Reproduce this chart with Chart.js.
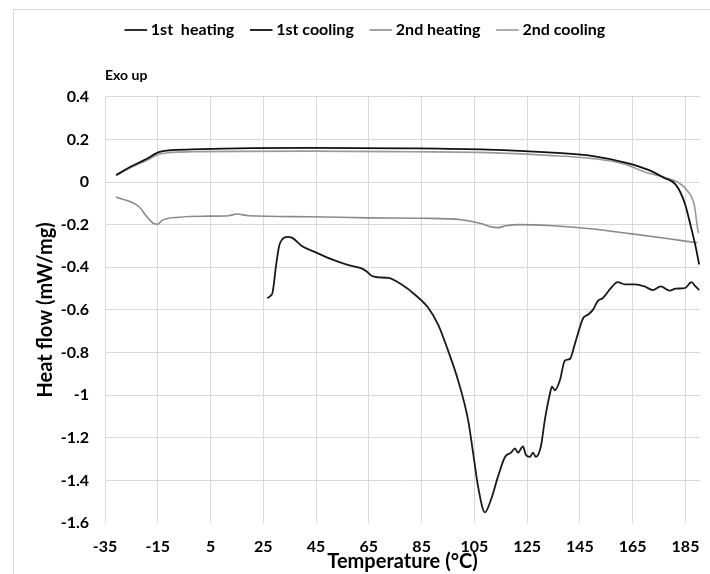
<!DOCTYPE html>
<html>
<head>
<meta charset="utf-8">
<script src="https://cdn.jsdelivr.net/npm/chart.js@4.4.1/dist/chart.umd.min.js"></script>
<style>
    html, body { margin: 0; padding: 0; background: #fff; }
    #wrap { position: relative; width: 710px; height: 574px; }
    #frame { position: absolute; left: 13px; top: 9px; right: 0; bottom: 0; border-left: 1px solid #d9d9d9; border-top: 1px solid #d9d9d9; }
    canvas { position: absolute; left: 0; top: 0; }
</style>
</head>
<body>
<div id="wrap">
    <div id="frame"></div>
    <canvas id="myChart-dsc" width="710" height="574"></canvas>
</div>
<script>
// temperatures (°C) and heat flow (mW/mg)
const heat1Temp = [26.5, 27.6, 28.5, 29.8, 31, 32.3, 34.2, 36, 39.6, 44.9, 51, 57.3, 62.2, 64.2, 66, 68.6, 72.4, 77.3, 82.6, 87.5, 91.3, 95, 98.8, 102.6, 104.5, 106.4, 109, 111.3, 114, 116.6, 118.9, 120.4, 121.5, 123.4, 124.5, 126, 127.2, 128.3, 130.2, 131.7, 133.6, 134.4, 135.5, 137.4, 139.3, 141.2, 143, 146.3, 148, 149.9, 151.8, 153.7, 156.7, 159.3, 162, 165.8, 169.5, 172.6, 175.6, 179, 181.3, 184.7, 187.3, 188.8, 190.2];
const heat1Flow = [-0.545, -0.535, -0.519, -0.395, -0.30, -0.267, -0.257, -0.262, -0.30, -0.33, -0.363, -0.39, -0.405, -0.42, -0.44, -0.447, -0.45, -0.48, -0.53, -0.59, -0.67, -0.79, -0.93, -1.116, -1.27, -1.43, -1.55, -1.49, -1.38, -1.29, -1.27, -1.25, -1.27, -1.24, -1.28, -1.29, -1.27, -1.29, -1.24, -1.116, -0.995, -0.96, -0.977, -0.93, -0.837, -0.83, -0.763, -0.637, -0.623, -0.6, -0.558, -0.544, -0.498, -0.47, -0.48, -0.48, -0.49, -0.507, -0.49, -0.51, -0.50, -0.498, -0.47, -0.49, -0.507];

const cool1Temp = [-30.8, -24.8, -19.5, -14.6, -10.8, -2, 42, 80, 110, 133, 150, 163, 170.7, 177, 181.3, 184.7, 187, 188.8, 190.2];
const cool1Flow = [0.033, 0.075, 0.107, 0.14, 0.149, 0.153, 0.16, 0.158, 0.152, 0.139, 0.122, 0.089, 0.058, 0.019, -0.012, -0.098, -0.207, -0.301, -0.387];

const heat2Temp = [-30.8, -22.1, -19.1, -16.5, -15, -13.4, -7, 4.3, 11.9, 14.9, 19.4, 42, 65, 85, 100, 107.5, 111, 114, 117, 122, 133, 150, 164, 178, 189.5];
const heat2Flow = [-0.07, -0.116, -0.163, -0.195, -0.198, -0.18, -0.165, -0.16, -0.158, -0.15, -0.158, -0.163, -0.168, -0.17, -0.177, -0.195, -0.21, -0.214, -0.205, -0.2, -0.204, -0.22, -0.242, -0.265, -0.285];

const cool2Temp = [-30.8, -24.8, -19.5, -14.6, -10.8, -2, 42, 80, 110, 133, 150, 162, 169.5, 178.2, 182, 185.8, 188.4, 189.6, 190];
const cool2Flow = [0.03, 0.07, 0.1, 0.13, 0.138, 0.142, 0.145, 0.142, 0.138, 0.125, 0.11, 0.084, 0.047, 0.018, 0.0, -0.042, -0.112, -0.219, -0.24];

const seriesNames = ['1st  heating', '1st cooling', '2nd heating', '2nd cooling'];
const xTicks = [-35, -15, 5, 25, 45, 65, 85, 105, 125, 145, 165, 185];
const yTicks = [-1.6, -1.4, -1.2, -1, -0.8, -0.6, -0.4, -0.2, 0, 0.2, 0.4];

const FONT = "Lato, 'Open Sans', sans-serif";

const toPoints = (xs, ys) => xs.map((x, i) => ({ x: x, y: ys[i] }));

const buildChart = () => {
    const chartData = {
        datasets: [
            { label: seriesNames[0], data: toPoints(heat1Temp, heat1Flow), borderColor: '#1a1a1a', borderWidth: 1.8 },
            { label: seriesNames[1], data: toPoints(cool1Temp, cool1Flow), borderColor: '#111111', borderWidth: 1.8 },
            { label: seriesNames[2], data: toPoints(heat2Temp, heat2Flow), borderColor: '#8a8a8a', borderWidth: 1.6 },
            { label: seriesNames[3], data: toPoints(cool2Temp, cool2Flow), borderColor: '#9a9a9a', borderWidth: 1.6 }
        ]
    };

    const config = {
        type: 'scatter',
        data: chartData,
        options: {
            responsive: false,
            animation: false,
            showLine: true,
            elements: {
                point: { radius: 0 },
                line: { tension: 0.3, cubicInterpolationMode: 'monotone', fill: false }
            },
            layout: { padding: { top: 2, left: 34, right: 10, bottom: 0 } },
            plugins: {
                tooltip: { enabled: false },
                legend: {
                    position: 'top',
                    weight: 1000,
                    labels: {
                        usePointStyle: true,
                        pointStyle: 'line',
                        boxWidth: 14,
                        padding: 20,
                        color: '#000',
                        font: { family: FONT, size: 16, weight: 'bold' }
                    }
                },
                title: {
                    display: true,
                    text: 'Exo up',
                    align: 'start',
                    fullSize: false,
                    weight: 500,
                    color: '#000',
                    padding: { top: 19, bottom: 13 },
                    font: { family: FONT, size: 14, weight: 'bold' }
                }
            },
            scales: {
                x: {
                    type: 'linear',
                    min: -35,
                    max: 190.5,
                    afterBuildTicks: (axis) => { axis.ticks = xTicks.map(v => ({ value: v })); },
                    afterFit: (axis) => { axis.height = 51; },
                    grid: { color: '#d9d9d9', tickLength: 14, tickColor: 'rgba(0,0,0,0)' },
                    border: { display: false },
                    ticks: {
                        padding: 0,
                        color: '#000',
                        font: { family: FONT, size: 16, weight: 'bold' }
                    },
                    title: {
                        display: true,
                        text: 'Temperature (°C)',
                        color: '#000',
                        padding: { top: 0, bottom: 0 },
                        font: { family: FONT, size: 20, weight: 'bold' }
                    }
                },
                y: {
                    type: 'linear',
                    min: -1.6,
                    max: 0.4,
                    afterBuildTicks: (axis) => { axis.ticks = yTicks.map(v => ({ value: v })); },
                    afterFit: (axis) => { axis.width = 71; },
                    grid: {
                        tickLength: 16,
                        tickColor: 'rgba(0,0,0,0)',
                        color: (c) => (c.tick && c.tick.value === -1.6 ? 'rgba(0,0,0,0)' : '#d9d9d9')
                    },
                    border: { display: false },
                    ticks: {
                        padding: 0,
                        color: '#000',
                        font: { family: FONT, size: 16, weight: 'bold' },
                        callback: (v) => String(Number(v.toFixed(1)))
                    },
                    title: {
                        display: true,
                        text: 'Heat flow (mW/mg)',
                        color: '#000',
                        padding: { top: 0, bottom: 0 },
                        font: { family: FONT, size: 20, weight: 'bold' }
                    }
                }
            }
        }
    };

    const ctx = document.getElementById('myChart-dsc').getContext('2d');
    new Chart(ctx, config);
};

document.addEventListener('DOMContentLoaded', () => {
    buildChart();
});
</script>
</body>
</html>
